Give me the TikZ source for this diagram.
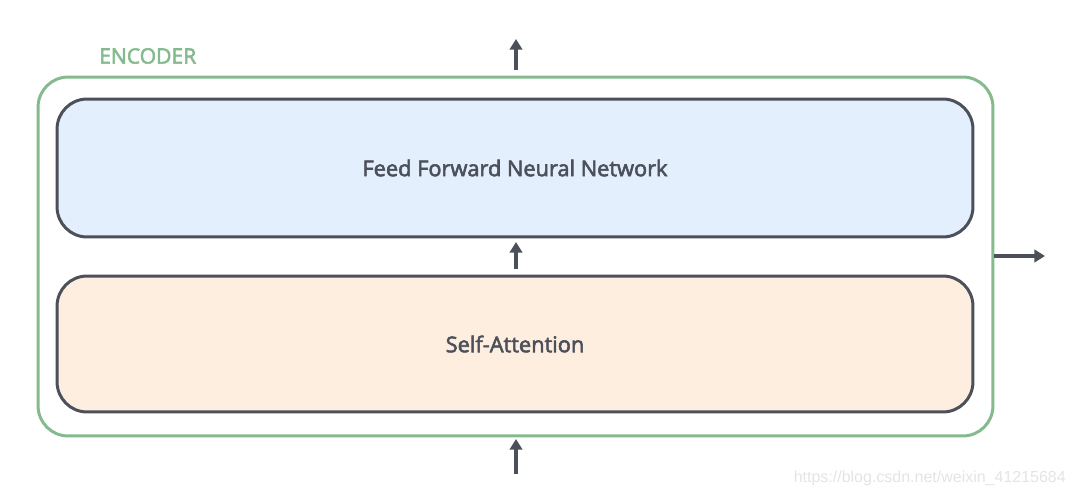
\documentclass[tikz,border=0pt]{standalone}
\usepackage{fontspec}
\setmainfont{Open Sans}
\newfontfamily\semibold{Open Sans}[FakeBold=2.6]
\newfontfamily\markfont{Liberation Sans}
\usepackage{xcolor}
\usetikzlibrary{arrows.meta}

\definecolor{boxline}{HTML}{4B505A}
\definecolor{encgreen}{HTML}{84BA8E}
\definecolor{ffnfill}{HTML}{E3EFFD}
\definecolor{safill}{HTML}{FEEEDF}
\definecolor{marktext}{HTML}{E4E4E4}

\tikzset{
    layer/.style={draw=boxline, line width=1.7pt, rounded corners=0.6cm,
        minimum width=18.32cm, text=boxline, font=\semibold\fontsize{12.4}{15}\selectfont},
    flow/.style={-{Triangle[width=7pt,length=6pt]}, draw=boxline, line width=1.8pt}
}

\begin{document}
\begin{tikzpicture}[x=0.02cm, y=-0.02cm]
    % Canvas
    \useasboundingbox (0,0) rectangle (1077,496);

    % Encoder frame
    \node[draw=encgreen, line width=1.7pt, rounded corners=0.6cm,
        minimum width=19.1cm, minimum height=7.18cm] (enc) at (515.5,256.5) {};
    \node[text=encgreen, font=\semibold\large, anchor=west] (enclabel) at (93,56) {ENCODER};

    % Layers
    \node[layer, fill=ffnfill, minimum height=2.76cm] (ffn) at (515,168) {Feed Forward Neural Network};
    \node[layer, fill=safill, minimum height=2.72cm] (sa) at (515,344) {Self-Attention};

    % Arrows
    \coordinate (in) at (516,474);
    \coordinate (out) at (516,39);
    \coordinate (next) at (1045,256);
    \draw[flow] (in) -- (516,439);
    \draw[flow, shorten <=3pt, shorten >=2pt] (sa.north -| in) -- (ffn.south -| in);
    \draw[flow] (516,70) -- (out);
    \draw[flow] (enc.east |- next) -- (next);

    % Watermark
    \node[text=marktext, font=\markfont\fontsize{9.1}{11}\selectfont, anchor=east] (mark) at (1072,478) {https://blog.csdn.net/weixin\_41215684};
\end{tikzpicture}
\end{document}
